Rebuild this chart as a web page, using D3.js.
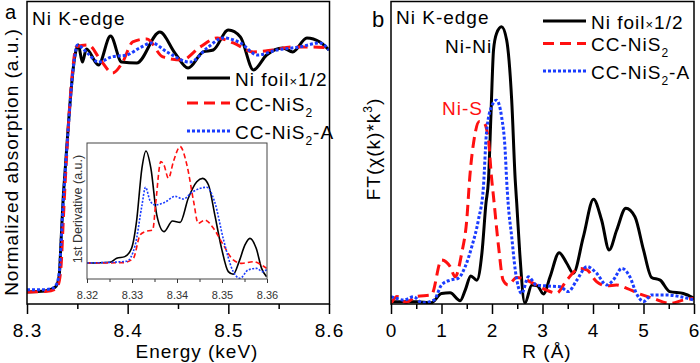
<!DOCTYPE html>
<html lang="en">
<head>
    <meta charset="UTF-8">
    <title>Ni K-edge XANES / EXAFS</title>
    <script src="https://d3js.org/d3.v7.min.js"></script>
    <style>
        body { margin: 0; background: #fff; }
        text { font-family: "Liberation Sans", Arial, sans-serif; }
    </style>
</head>
<body>

<script>
    // ---- panel a : normalized absorption ----
    const foilE = [8.300, 8.318, 8.325, 8.329, 8.332, 8.334, 8.336, 8.338, 8.341, 8.344, 8.347, 8.351, 8.355, 8.359, 8.371, 8.383, 8.394, 8.409, 8.432, 8.447, 8.460, 8.475, 8.485, 8.500, 8.512, 8.525, 8.538, 8.554, 8.564, 8.578, 8.591, 8.600];
    const foilMu = [0.00, 0.004, 0.013, 0.025, 0.07, 0.23, 0.40, 0.52, 0.70, 0.86, 0.98, 1.042, 0.970, 1.025, 0.958, 1.080, 0.970, 0.966, 1.097, 1.008, 0.945, 1.013, 1.021, 1.105, 1.076, 0.937, 1.000, 1.030, 1.013, 1.072, 1.055, 1.021];

    const nis2E = [8.300, 8.320, 8.327, 8.331, 8.334, 8.336, 8.338, 8.340, 8.342, 8.345, 8.349, 8.361, 8.373, 8.385, 8.395, 8.405, 8.419, 8.435, 8.454, 8.472, 8.489, 8.505, 8.525, 8.544, 8.564, 8.584, 8.600];
    const nis2Mu = [0.00, 0.003, 0.010, 0.030, 0.12, 0.30, 0.47, 0.62, 0.76, 0.92, 1.034, 1.042, 0.979, 0.924, 0.970, 1.055, 1.068, 0.992, 0.979, 1.034, 1.072, 1.051, 1.013, 1.021, 1.034, 1.034, 1.030];

    const nis2aE = [8.300, 8.318, 8.325, 8.329, 8.332, 8.334, 8.336, 8.338, 8.341, 8.344, 8.347, 8.350, 8.360, 8.371, 8.384, 8.399, 8.412, 8.424, 8.439, 8.462, 8.479, 8.495, 8.512, 8.529, 8.548, 8.571, 8.591, 8.600];
    const nis2aMu = [0.01, 0.01, 0.015, 0.03, 0.08, 0.22, 0.38, 0.51, 0.69, 0.86, 0.98, 1.042, 1.008, 0.970, 0.992, 1.000, 1.030, 1.051, 1.013, 0.970, 1.030, 1.072, 1.051, 1.000, 1.021, 1.034, 1.051, 1.021];

    const energyTicks = [8.3, 8.4, 8.5, 8.6];

    // ---- inset : 1st derivative ----
    const dFoilE = [8.3200, 8.3251, 8.3266, 8.3284, 8.3299, 8.3310, 8.3322, 8.3331, 8.3342, 8.3355, 8.3371, 8.3390, 8.3407, 8.3425, 8.3444, 8.3457, 8.3470, 8.3484, 8.3499, 8.3514, 8.3525, 8.3538, 8.3551, 8.3562, 8.3576, 8.3588, 8.3599];
    const dFoil = [0, 0.007, 0.042, 0.057, 0.131, 0.369, 0.845, 1.0, 0.845, 0.429, 0.280, 0.375, 0.363, 0.578, 0.726, 0.756, 0.696, 0.429, 0.131, -0.077, -0.101, 0.012, 0.161, 0.220, 0.131, -0.048, -0.122];

    const dNis2E = [8.3200, 8.3281, 8.3303, 8.3318, 8.3329, 8.3346, 8.3353, 8.3364, 8.3371, 8.3381, 8.3392, 8.3407, 8.3422, 8.3437, 8.3447, 8.3462, 8.3481, 8.3503, 8.3525, 8.3544, 8.3570, 8.3588, 8.3599];
    const dNis2 = [0, 0.003, 0.042, 0.250, 0.280, 0.295, 0.548, 0.905, 0.875, 0.756, 0.905, 1.039, 0.875, 0.548, 0.354, 0.384, 0.310, 0.161, 0.027, -0.003, 0.012, -0.018, -0.048];

    const dNis2aE = [8.3200, 8.3288, 8.3307, 8.3322, 8.3330, 8.3340, 8.3351, 8.3373, 8.3396, 8.3414, 8.3433, 8.3466, 8.3484, 8.3503, 8.3525, 8.3540, 8.3558, 8.3577, 8.3590, 8.3601];
    const dNis2a = [0, 0.015, 0.158, 0.512, 0.676, 0.557, 0.518, 0.542, 0.595, 0.571, 0.631, 0.676, 0.542, 0.214, -0.077, -0.137, -0.062, -0.048, -0.077, -0.054];

    const insetTicks = [8.32, 8.33, 8.34, 8.35, 8.36];

    // ---- panel b : Fourier transform ----
    const rFoil = [0, 0.51, 0.80, 1.00, 1.17, 1.37, 1.47, 1.58, 1.70, 1.80, 1.88, 1.93, 1.98, 2.03, 2.09, 2.19, 2.29, 2.39, 2.46, 2.49, 2.55, 2.65, 2.79, 2.90, 3.02, 3.15, 3.33, 3.48, 3.61, 3.81, 4.01, 4.17, 4.32, 4.47, 4.65, 4.83, 5.00, 5.16, 5.33, 5.52, 5.79, 6.00];
    const ftFoil = [0.076, 0.076, 0.04, 0.35, 0.37, 0.11, 0.46, 0.93, 0.79, 1.68, 3.33, 4.1, 6.3, 8.41, 8.96, 9.18, 8.74, 6.75, 4.1, 3.33, 1.68, 0.03, 0.63, 0.6, 0.33, 0.9, 1.70, 1.35, 1.02, 2.23, 3.47, 2.78, 1.79, 2.45, 3.17, 2.89, 1.79, 0.88, 0.79, 0.41, 0.35, 0.19];

    const rNis2 = [0, 0.12, 0.30, 0.50, 0.80, 1.00, 1.17, 1.27, 1.40, 1.50, 1.56, 1.65, 1.75, 1.84, 1.93, 1.99, 2.03, 2.13, 2.22, 2.32, 2.49, 2.69, 2.88, 3.08, 3.28, 3.48, 3.74, 3.88, 4.07, 4.27, 4.47, 4.67, 4.93, 5.19, 5.52, 5.79, 6.00];
    const ftNis2 = [0.02, 0.25, 0.05, 0.25, 0.30, 1.46, 1.24, 0.90, 1.68, 2.78, 4.2, 5.5, 6.04, 6.0, 5.43, 4.2, 3.55, 1.90, 0.79, 0.63, 0.88, 0.79, 0.63, 0.46, 0.36, 0.79, 1.18, 1.13, 0.74, 0.60, 0.63, 0.52, 0.33, 0.19, 0.02, 0.13, 0.19];

    const rNis2a = [0, 0.12, 0.25, 0.45, 0.61, 0.85, 1.00, 1.17, 1.33, 1.47, 1.60, 1.73, 1.83, 1.89, 1.99, 2.09, 2.19, 2.26, 2.29, 2.32, 2.39, 2.46, 2.52, 2.59, 2.72, 2.88, 3.08, 3.35, 3.51, 3.68, 3.88, 4.07, 4.27, 4.40, 4.57, 4.73, 4.86, 5.00, 5.16, 5.46, 5.73, 6.00];
    const ftNis2a = [0.24, 0.18, 0.13, 0.24, 0.04, 0.13, 0.63, 0.79, 0.85, 1.24, 1.90, 2.78, 3.88, 5.65, 6.53, 6.75, 6.2, 5.1, 4.1, 3.33, 2.23, 1.13, 0.57, 0.35, 0.9, 0.63, 0.6, 0.57, 0.41, 0.79, 1.24, 1.02, 0.63, 0.79, 1.18, 0.9, 0.35, 0.08, 0.3, 0.3, 0.24, 0.13];

    const rTicks = [0, 1, 2, 3, 4, 5, 6];

    // series styles
    const series = [
        { name: "foil", color: "#000", dash: null, width: 3 },
        { name: "nis2", color: "#ff1010", dash: "11,6", width: 3 },
        { name: "nis2a", color: "#1a3cff", dash: "3,2", width: 3 }
    ];

    const zip = (xs, ys) => xs.map((x, i) => [x, ys[i]]);

    const svg = d3.select("body").append("svg")
        .attr("width", 700)
        .attr("height", 363);

    const fontSize = 19;
    const ls = 1;   // letter spacing so the text width matches

    // ======== panel a ========
    const xA = d3.scaleLinear().domain([8.3, 8.6]).range([27, 329]);
    const yA = d3.scaleLinear().domain([0, 1]).range([292, 55]);

    const gA = svg.append("g");

    gA.append("clipPath").attr("id", "clipA")
        .append("rect").attr("x", 27).attr("y", 1.5).attr("width", 302.5).attr("height", 302.5);

    const lineA = d3.line().x(d => xA(d[0])).y(d => yA(d[1])).curve(d3.curveMonotoneX);
    const dataA = [zip(foilE, foilMu), zip(nis2E, nis2Mu), zip(nis2aE, nis2aMu)];

    dataA.forEach((d, i) => {
        gA.append("path")
            .attr("d", lineA(d))
            .attr("clip-path", "url(#clipA)")
            .attr("fill", "none")
            .attr("stroke", series[i].color)
            .attr("stroke-width", series[i].width)
            .attr("stroke-dasharray", series[i].dash)
            .attr("stroke-linejoin", "round");
    });

    // minor + major ticks
    gA.append("g").attr("transform", "translate(0,304)")
        .call(d3.axisBottom(xA).tickValues([8.35, 8.45, 8.55]).tickSize(5).tickFormat(""))
        .call(g => g.select(".domain").remove());
    gA.append("g").attr("transform", "translate(0,304)")
        .call(d3.axisBottom(xA).tickValues(energyTicks).tickSize(10).tickPadding(10).tickFormat(d3.format(".1f")))
        .call(g => g.select(".domain").remove())
        .call(g => g.selectAll("text").attr("font-size", fontSize).attr("fill", "#000")
            .attr("font-family", "Liberation Sans, Arial, sans-serif").attr("letter-spacing", ls));
    gA.selectAll(".tick line").attr("stroke", "#000").attr("stroke-width", 1.5);

    // frame
    gA.append("rect").attr("x", 27).attr("y", 1.5).attr("width", 302.5).attr("height", 302.5)
        .attr("fill", "none").attr("stroke", "#000").attr("stroke-width", 1.5);

    gA.append("text").attr("x", 5).attr("y", 19).attr("font-size", 20).text("a");
    gA.append("text").attr("x", 32).attr("y", 25).attr("font-size", fontSize).attr("letter-spacing", ls).text("Ni K-edge");
    gA.append("text").attr("transform", "translate(18,162) rotate(-90)")
        .attr("text-anchor", "middle").attr("font-size", fontSize).attr("letter-spacing", ls)
        .text("Normalized absorption (a.u.)");
    gA.append("text").attr("x", 197).attr("y", 358).attr("text-anchor", "middle")
        .attr("font-size", fontSize).attr("letter-spacing", ls).text("Energy (keV)");

    // legend
    function legend(g, x0, y0, rowsY) {
        series.forEach((s, i) => {
            g.append("line")
                .attr("x1", x0).attr("x2", x0 + 43)
                .attr("y1", y0 + rowsY[i]).attr("y2", y0 + rowsY[i])
                .attr("stroke", s.color).attr("stroke-width", s.width)
                .attr("stroke-dasharray", s.dash);
            const t = g.append("text").attr("x", x0 + 48).attr("y", y0 + rowsY[i] + 7.5)
                .attr("font-size", fontSize).attr("letter-spacing", ls);
            if (i === 0) {
                t.append("tspan").text("Ni foil");
                t.append("tspan").attr("font-size", 13).text("×");
                t.append("tspan").text("1/2");
            } else {
                t.append("tspan").text("CC-NiS");
                t.append("tspan").attr("font-size", 12).attr("dy", 6).text("2");
                if (i === 2) t.append("tspan").attr("dy", -6).text("-A");
            }
        });
    }
    legend(gA, 187, 78, [0, 25, 53]);

    // ---- inset ----
    const xI = d3.scaleLinear().domain([8.32, 8.36]).range([87, 267]);
    const yI = d3.scaleLinear().domain([0, 1]).range([263, 151]);

    const gI = svg.append("g");
    gI.append("rect").attr("x", 87).attr("y", 143).attr("width", 180).attr("height", 136).attr("fill", "#fff");
    gI.append("clipPath").attr("id", "clipI")
        .append("rect").attr("x", 87).attr("y", 143).attr("width", 180).attr("height", 136);

    const lineI = d3.line().x(d => xI(d[0])).y(d => yI(d[1])).curve(d3.curveMonotoneX);
    const dataI = [zip(dFoilE, dFoil), zip(dNis2E, dNis2), zip(dNis2aE, dNis2a)];
    const insetDash = [null, "5,3", "2,1.5"];

    dataI.forEach((d, i) => {
        gI.append("path")
            .attr("d", lineI(d))
            .attr("clip-path", "url(#clipI)")
            .attr("fill", "none")
            .attr("stroke", series[i].color)
            .attr("stroke-width", 1.6)
            .attr("stroke-dasharray", insetDash[i]);
    });

    gI.append("g").attr("transform", "translate(0,279)")
        .call(d3.axisBottom(xI).tickValues([8.325, 8.335, 8.345, 8.355]).tickSize(3).tickFormat(""))
        .call(g => g.select(".domain").remove());
    gI.append("g").attr("transform", "translate(0,279)")
        .call(d3.axisBottom(xI).tickValues(insetTicks).tickSize(4).tickPadding(8).tickFormat(d3.format(".2f")))
        .call(g => g.select(".domain").remove())
        .call(g => g.selectAll("text").attr("font-size", 11).attr("fill", "#333")
            .attr("font-family", "Liberation Sans, Arial, sans-serif"));
    gI.selectAll(".tick line").attr("stroke", "#333");

    gI.append("rect").attr("x", 87).attr("y", 143).attr("width", 180).attr("height", 136)
        .attr("fill", "none").attr("stroke", "#444").attr("stroke-width", 1);
    gI.append("text").attr("transform", "translate(82,209) rotate(-90)")
        .attr("text-anchor", "middle").attr("font-size", 12.5).attr("fill", "#333")
        .text("1st Derivative (a.u.)");

    // ======== panel b ========
    const xB = d3.scaleLinear().domain([0, 6]).range([391, 694]);
    const yB = d3.scaleLinear().domain([0, 10]).range([304, 2]);

    const gB = svg.append("g");
    gB.append("clipPath").attr("id", "clipB")
        .append("rect").attr("x", 391).attr("y", 1.5).attr("width", 303).attr("height", 302.5);

    const lineB = d3.line().x(d => xB(d[0])).y(d => yB(d[1])).curve(d3.curveMonotoneX);
    const dataB = [zip(rFoil, ftFoil), zip(rNis2, ftNis2), zip(rNis2a, ftNis2a)];

    dataB.forEach((d, i) => {
        gB.append("path")
            .attr("d", lineB(d))
            .attr("clip-path", "url(#clipB)")
            .attr("fill", "none")
            .attr("stroke", series[i].color)
            .attr("stroke-width", series[i].width)
            .attr("stroke-dasharray", series[i].dash)
            .attr("stroke-linejoin", "round");
    });

    gB.append("g").attr("transform", "translate(0,304)")
        .call(d3.axisBottom(xB).tickValues([0.5, 1.5, 2.5, 3.5, 4.5, 5.5]).tickSize(5).tickFormat(""))
        .call(g => g.select(".domain").remove());
    gB.append("g").attr("transform", "translate(0,304)")
        .call(d3.axisBottom(xB).tickValues(rTicks).tickSize(10).tickPadding(10).tickFormat(d3.format("d")))
        .call(g => g.select(".domain").remove())
        .call(g => g.selectAll("text").attr("font-size", fontSize).attr("fill", "#000")
            .attr("font-family", "Liberation Sans, Arial, sans-serif").attr("letter-spacing", ls));
    gB.selectAll(".tick line").attr("stroke", "#000").attr("stroke-width", 1.5);

    gB.append("rect").attr("x", 391).attr("y", 1.5).attr("width", 303).attr("height", 302.5)
        .attr("fill", "none").attr("stroke", "#000").attr("stroke-width", 1.5);

    gB.append("text").attr("x", 372).attr("y", 27).attr("font-size", 22).text("b");
    gB.append("text").attr("x", 396).attr("y", 24).attr("font-size", fontSize).attr("letter-spacing", ls).text("Ni K-edge");
    gB.append("text").attr("x", 445).attr("y", 53).attr("font-size", fontSize).attr("letter-spacing", ls).text("Ni-Ni");
    gB.append("text").attr("x", 442).attr("y", 115).attr("font-size", fontSize).attr("letter-spacing", ls)
        .attr("fill", "#ff1010").text("Ni-S");

    const yLabB = gB.append("text").attr("transform", "translate(380,149) rotate(-90)")
        .attr("text-anchor", "middle").attr("font-size", fontSize).attr("letter-spacing", ls);
    yLabB.append("tspan").text("FT(χ(k)*k");
    yLabB.append("tspan").attr("font-size", 12).attr("dy", -8).text("3");
    yLabB.append("tspan").attr("dy", 8).text(")");

    gB.append("text").attr("x", 547).attr("y", 358).attr("text-anchor", "middle")
        .attr("font-size", fontSize).attr("letter-spacing", ls).text("R (Å)");

    legend(gB, 543, 21, [0, 22.5, 50]);
</script>
</body>
</html>
